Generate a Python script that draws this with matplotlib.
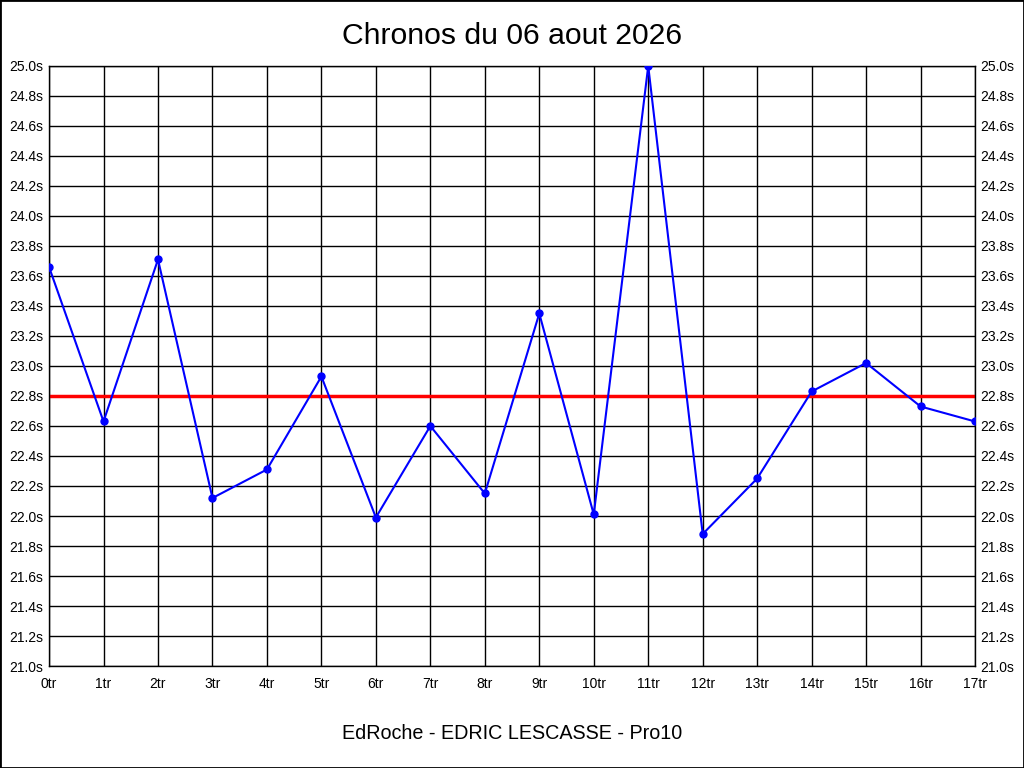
import matplotlib.pyplot as plt
from matplotlib.patches import Rectangle
from matplotlib.ticker import FuncFormatter

plt.rcParams['font.family'] = ['Liberation Sans', 'DejaVu Sans']

# chronos par tour (secondes)
tours = list(range(18))
tour_labels = [f'{t}tr' for t in tours]
chronos = [23.66, 22.63, 23.71, 22.12, 22.31, 22.93, 21.99, 22.60, 22.15,
           23.35, 22.01, 25.00, 21.88, 22.25, 22.83, 23.02, 22.73, 22.63]
moyenne = 22.80
y_ticks = [21.0 + 0.2 * i for i in range(21)]

fig = plt.figure(figsize=(10.24, 7.68), dpi=100)
ax = fig.add_axes([0.0479, 0.1328, 0.9043, 0.7813])

ax.plot(tours, chronos, color='#0000ff', linewidth=1.5, marker='o',
        markersize=5, zorder=3)
ax.axhline(moyenne, color='#ff0000', linewidth=2.5, zorder=2)

ax.set_xlim(0, 17)
ax.set_ylim(21.0, 25.0)
ax.set_xticks(tours)
ax.set_xticklabels(tour_labels)
ax.set_yticks(y_ticks)
ax.yaxis.set_major_formatter(FuncFormatter(lambda v, p: f'{v:.1f}s'))
ax.tick_params(axis='both', length=0, labelsize=10, pad=4)
ax.tick_params(axis='x', pad=8)
ax.tick_params(axis='y', right=True, labelright=True)
ax.grid(True, color='black', linewidth=1)
ax.set_axisbelow(True)
for s in ax.spines.values():
    s.set_color('black')
    s.set_linewidth(1)

fig.text(0.5, 0.953, 'Chronos du 06 aout 2026', ha='center', va='center',
         fontsize=21.7)
fig.text(0.5, 0.045, 'EdRoche - EDRIC LESCASSE - Pro10', ha='center',
         va='center', fontsize=14.2)

fig.patches.append(Rectangle((0, 0), 1, 1, transform=fig.transFigure,
                             fill=False, edgecolor='black', linewidth=2))

fig.savefig('out.png', dpi=100)
